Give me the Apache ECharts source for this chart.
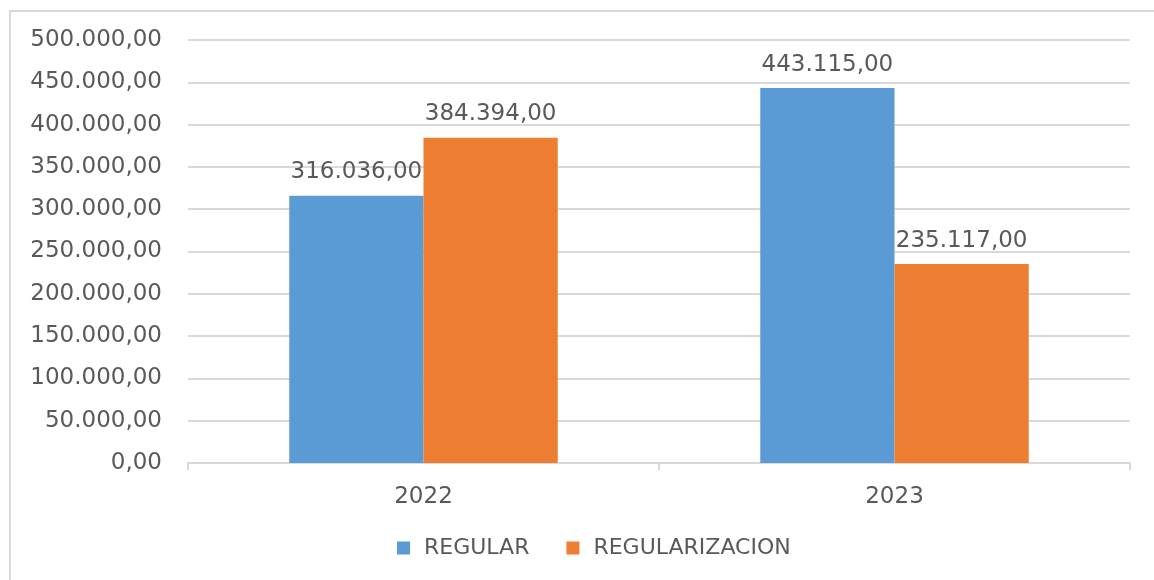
<!DOCTYPE html>
<html>
<head>
  <meta charset="UTF-8">
  <script src="https://cdn.jsdelivr.net/npm/echarts@6/dist/echarts.min.js"></script>
  <style>
    body { margin: 0; background: #fff; }
    #frame { position: absolute; left: 9px; top: 10px; width: 1160px; height: 580px; border: 2px solid #d9d9d9; box-sizing: border-box; }
    #chart { position: absolute; left: 0; top: 0; width: 1154px; height: 580px; }
  </style>
</head>
<body>
  <div id="frame"></div>
  <div id="chart"></div>
  <script>
    const years = ['2022', '2023'];
    const regular = [316036, 443115];
    const regularizacion = [384394, 235117];

    // formato es-ES: 316.036,00
    function fmt(v) {
      const parts = v.toFixed(2).split('.');
      return parts[0].replace(/\B(?=(\d{3})+(?!\d))/g, '.') + ',' + parts[1];
    }

    const chart = echarts.init(document.getElementById('chart'));
    const txt = { fontFamily: 'DejaVu Sans', fontSize: 23, color: '#595959' };

    chart.setOption({
      animation: false,
      textStyle: { fontFamily: 'DejaVu Sans' },
      grid: { left: 188, right: 24, top: 40, bottom: 117 },
      legend: {
        data: ['REGULAR', 'REGULARIZACION'],
        bottom: 16,
        left: 392,
        icon: 'rect',
        itemWidth: 13,
        itemHeight: 13,
        itemGap: 37,
        textStyle: Object.assign({}, txt, { fontSize: 22, padding: [0, 0, 0, 9] })
      },
      xAxis: {
        type: 'category',
        data: years,
        axisLine: { lineStyle: { color: '#d9d9d9', width: 2 } },
        axisTick: { show: true, length: 7, lineStyle: { color: '#d9d9d9', width: 2 } },
        axisLabel: Object.assign({}, txt, { margin: 23 })
      },
      yAxis: {
        type: 'value',
        min: 0,
        max: 500000,
        interval: 50000,
        axisLine: { show: false },
        axisTick: { show: false },
        splitLine: { lineStyle: { color: '#d9d9d9', width: 2 } },
        axisLabel: Object.assign({}, txt, { margin: 26, formatter: fmt })
      },
      series: [
        {
          name: 'REGULAR',
          type: 'bar',
          data: regular,
          barGap: '0%',
          barCategoryGap: '43%',
          itemStyle: { color: '#5B9BD5' },
          label: { show: true, position: 'top', distance: 12, formatter: p => fmt(p.value), ...txt }
        },
        {
          name: 'REGULARIZACION',
          type: 'bar',
          data: regularizacion,
          barGap: '0%',
          barCategoryGap: '43%',
          itemStyle: { color: '#ED7D31' },
          label: { show: true, position: 'top', distance: 12, formatter: p => fmt(p.value), ...txt }
        }
      ]
    });
  </script>
</body>
</html>
